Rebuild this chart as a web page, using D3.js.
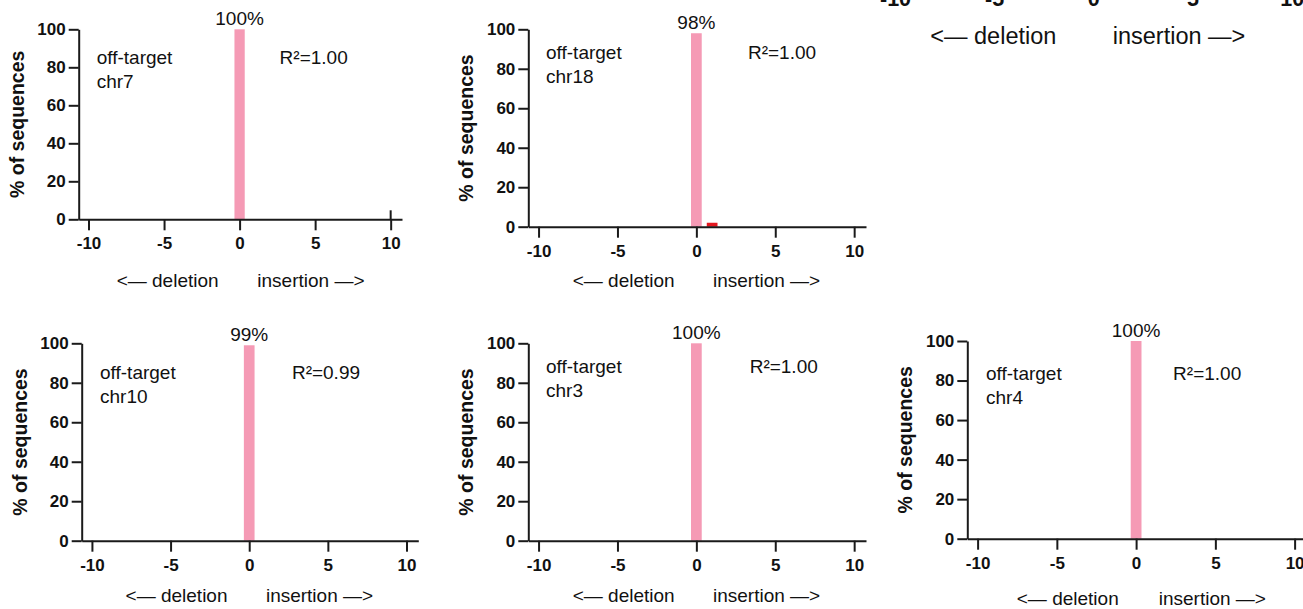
<!DOCTYPE html>
<html>
<head>
<meta charset="utf-8">
<script src="https://cdn.jsdelivr.net/npm/d3@7"></script>
<style>
  body { margin: 0; background: #fff; }
  svg { display: block; font-family: "Liberation Sans", Arial, sans-serif; }
  .tick text { font-weight: bold; font-size: 17px; fill: #111; }
  .domain, .tick line { stroke: #1a1a1a; stroke-width: 2; }
</style>
</head>
<body>
<div id="chart"></div>
<script>
// indel size (bp) on x, % of sequences on y
var indelSizes = [0, 1];
var barColors = ["#f59ab5", "#e3171f"];
var targets = ["chr7", "chr18", "chr10", "chr3", "chr4"];
var chr7Values = [100, 0];
var chr18Values = [98, 2];
var chr10Values = [99, 0];
var chr3Values = [100, 0];
var chr4Values = [100, 0];
var peakLabels = ["100%", "98%", "99%", "100%", "100%"];
var r2Labels = ["1.00", "1.00", "0.99", "1.00", "1.00"];
var xTicks = [-10, -5, 0, 5, 10];
var yTicks = [0, 20, 40, 60, 80, 100];

var seriesValues = [chr7Values, chr18Values, chr10Values, chr3Values, chr4Values];

var svgWidth = 1303;
var svgHeight = 609;

// panel geometry (pixels)
var panels = [
  { left: 78.7, right: 402, y0: 219.3, y100: 29.3, nameDx: 18, nameDy: 34.7, r2Dx: 40, delDx: -21, insDx: 17.7, titleDy: 67.7, upTick: true },
  { left: 528.3, right: 866, y0: 226.7, y100: 29.3, nameDx: 17.7, nameDy: 30, r2Dx: 51.6, delDx: -21.7, insDx: 16.6, titleDy: 60.3 },
  { left: 81.7, right: 418.3, y0: 540.7, y100: 343.3, nameDx: 18.3, nameDy: 36, r2Dx: 42.7, delDx: -21.7, insDx: 16.7, titleDy: 61 },
  { left: 528.3, right: 866, y0: 540.7, y100: 343.3, nameDx: 17.7, nameDy: 30, r2Dx: 53.3, delDx: -21.7, insDx: 16.6, titleDy: 61 },
  { left: 967.3, right: 1306.5, y0: 538.7, y100: 341, nameDx: 18.7, nameDy: 39, r2Dx: 37, delDx: -17.4, insDx: 22.6, titleDy: 66.5 }
];

var xDomain = [-10.65, 10.75];
var plainNum = d => String(d);

var svg = d3.select("#chart")
  .append("svg")
  .attr("width", svgWidth)
  .attr("height", svgHeight);

panels.forEach(function(p, i) {
  var g = svg.append("g");

  var xScale = d3.scaleLinear().domain(xDomain).range([p.left, p.right]);
  var yScale = d3.scaleLinear().domain([0, 100]).range([p.y0, p.y100]);

  var data = indelSizes.map(function(s, j) {
    return { size: s, value: seriesValues[i][j], color: barColors[j] };
  }).filter(function(d) { return d.value > 0; });

  var barW = xScale(0.34) - xScale(-0.34);

  g.selectAll("rect")
    .data(data)
    .enter()
    .append("rect")
    .attr("x", d => xScale(d.size) - barW / 2)
    .attr("y", d => yScale(d.value))
    .attr("width", barW)
    .attr("height", d => yScale(0) - yScale(d.value))
    .attr("fill", d => d.color);

  // axes
  g.append("g")
    .attr("transform", `translate(0, ${p.y0})`)
    .call(d3.axisBottom(xScale).tickValues(xTicks).tickFormat(plainNum)
      .tickSize(11).tickPadding(7).tickSizeOuter(0));

  g.append("g")
    .attr("transform", `translate(${p.left}, 0)`)
    .call(d3.axisLeft(yScale).tickValues(yTicks).tickFormat(plainNum)
      .tickSize(10).tickPadding(3).tickSizeOuter(0));

  if (p.upTick) {
    g.append("line")
      .attr("x1", xScale(10)).attr("x2", xScale(10))
      .attr("y1", p.y0).attr("y2", p.y0 - 9)
      .attr("stroke", "#1a1a1a").attr("stroke-width", 2);
  }

  // peak label
  g.append("text")
    .attr("x", xScale(0))
    .attr("y", yScale(seriesValues[i][0]) - 4.5)
    .attr("text-anchor", "middle")
    .attr("font-size", "19px")
    .attr("fill", "#111")
    .text(peakLabels[i]);

  // target name
  g.append("text")
    .attr("x", p.left + p.nameDx)
    .attr("y", p.y100 + p.nameDy)
    .attr("font-size", "19px")
    .attr("fill", "#111")
    .text("off-target");
  g.append("text")
    .attr("x", p.left + p.nameDx)
    .attr("y", p.y100 + p.nameDy + 23.5)
    .attr("font-size", "19px")
    .attr("fill", "#111")
    .text(targets[i]);

  g.append("text")
    .attr("x", xScale(0) + p.r2Dx)
    .attr("y", p.y100 + p.nameDy)
    .attr("font-size", "19px")
    .attr("fill", "#111")
    .text("R²=" + r2Labels[i]);

  // y axis title
  g.append("text")
    .attr("transform", `translate(${p.left - 62}, ${(p.y0 + p.y100) / 2}) rotate(-90)`)
    .attr("dy", "0.35em")
    .attr("text-anchor", "middle")
    .attr("font-size", "19.5px")
    .attr("font-weight", "bold")
    .attr("fill", "#111")
    .text("% of sequences");

  // x axis title
  g.append("text")
    .attr("x", xScale(0) + p.delDx)
    .attr("y", p.y0 + p.titleDy)
    .attr("text-anchor", "end")
    .attr("font-size", "19px")
    .attr("fill", "#111")
    .text("<— deletion");
  g.append("text")
    .attr("x", xScale(0) + p.insDx)
    .attr("y", p.y0 + p.titleDy)
    .attr("font-size", "19px")
    .attr("fill", "#111")
    .text("insertion —>");
});

// cropped panel at top right, only the bottom of its x axis shows
var cropX = d3.scaleLinear().domain([-10, 10]).range([895, 1291.7]);
var cropAxis = svg.append("g")
  .attr("transform", "translate(0, -31.5)")
  .call(d3.axisBottom(cropX).tickValues(xTicks).tickFormat(plainNum)
    .tickSize(14).tickPadding(8.5).tickSizeOuter(0));
cropAxis.selectAll(".tick text").style("font-size", "21.5px");

svg.append("text")
  .attr("x", cropX(0) - 37)
  .attr("y", 44)
  .attr("text-anchor", "end")
  .attr("font-size", "23.5px")
  .attr("fill", "#111")
  .text("<— deletion");
svg.append("text")
  .attr("x", cropX(0) + 19.4)
  .attr("y", 44)
  .attr("font-size", "23.5px")
  .attr("fill", "#111")
  .text("insertion —>");
</script>
</body>
</html>
